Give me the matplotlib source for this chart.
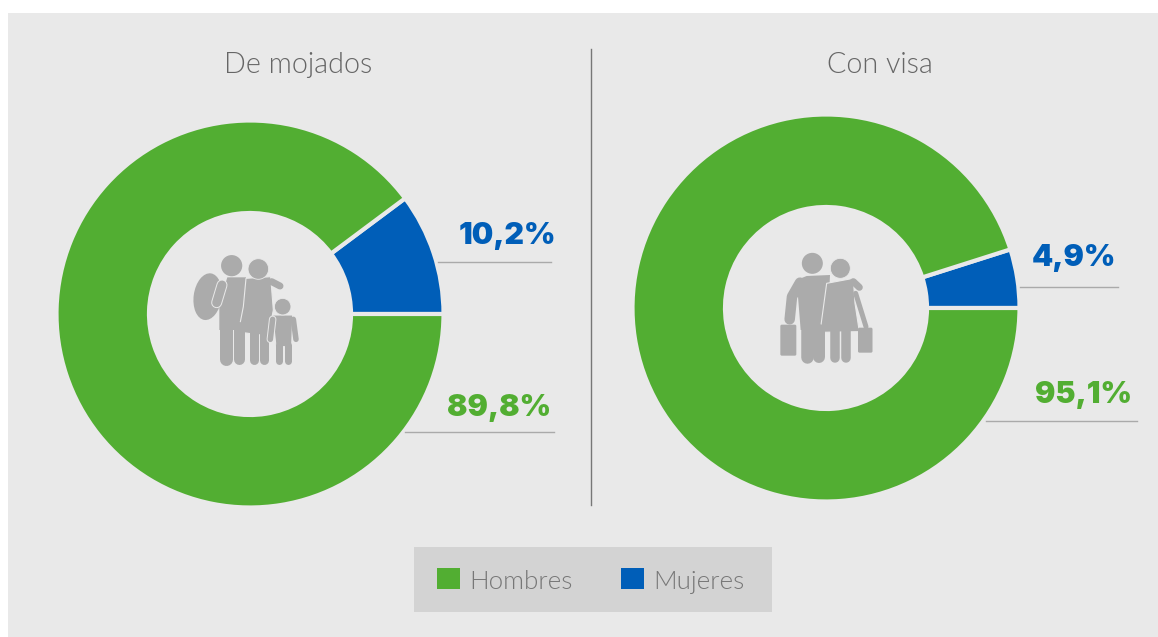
import matplotlib
matplotlib.use("Agg")
import matplotlib.pyplot as plt
from matplotlib.patches import Rectangle, Circle, Ellipse, Polygon, FancyBboxPatch

W, H = 1158, 637
BG = "#E9E9E9"
GREEN = "#52AE32"
BLUE = "#005EB8"
ICON = "#ABABAB"

categories = ["Hombres", "Mujeres"]
titles = ["De mojados", "Con visa"]
mojados = [89.8, 10.2]
visa = [95.1, 4.9]
mojados_labels = ["89,8%", "10,2%"]
visa_labels = ["95,1%", "4,9%"]

plt.rcParams['font.family'] = ['Lato', 'DejaVu Sans']

fig = plt.figure(figsize=(W / 100, H / 100), dpi=100, facecolor="white")

# pixel canvas for everything that is not a pie
ax = fig.add_axes([0, 0, 1, 1])
ax.set_xlim(0, W)
ax.set_ylim(H, 0)
ax.axis("off")
ax.add_patch(Rectangle((8, 13), W - 8, H - 13, color=BG, lw=0))
ax.add_patch(Rectangle((414, 547), 358, 65, color="#D3D3D3", lw=0))


def donut(cx, cy, r, values):
    a = fig.add_axes([(cx - r) / W, 1 - (cy + r) / H, 2 * r / W, 2 * r / H])
    # mujeres first so the small slice sits just above the 3 o'clock line
    w, _ = a.pie(values[::-1], colors=[BLUE, GREEN], startangle=0, radius=1,
                 wedgeprops=dict(width=0.478, edgecolor=BG, linewidth=3))
    a.set_xlim(-1, 1)
    a.set_ylim(-1, 1)
    return w[::-1]


wedges = donut(250, 314, 193.5, mojados)
donut(826, 308, 193.5, visa)

# overlay for labels and icons
top = fig.add_axes([0, 0, 1, 1], facecolor="none")
top.set_xlim(0, W)
top.set_ylim(H, 0)
top.axis("off")

top.text(298, 65, titles[0], ha="center", va="center", fontsize=20.7, fontweight=300, color="#666666")
top.text(880, 65, titles[1], ha="center", va="center", fontsize=20.7, fontweight=300, color="#666666")
top.plot([591, 591], [49, 505], color="#777777", lw=1)

LABEL_FONT = dict(ha="center", va="center", fontsize=21.8, fontweight=900, family="Inter")
top.text(507, 236, mojados_labels[1], color=BLUE, **LABEL_FONT)
top.text(499, 408, mojados_labels[0], color=GREEN, **LABEL_FONT)
top.text(1074, 258, visa_labels[1], color=BLUE, **LABEL_FONT)
top.text(1084, 395, visa_labels[0], color=GREEN, **LABEL_FONT)

for x0, x1, y in [(438, 551, 262), (405, 554, 432), (1020, 1118, 287), (986, 1137, 421)]:
    top.plot([x0, x1], [y, y], color="#AAAAAA", lw=1)


def limb(pts, width, edge=False):
    xs = [p[0] for p in pts]
    ys = [p[1] for p in pts]
    if edge:
        top.plot(xs, ys, color=BG, lw=(width + 2) * 0.72, solid_capstyle="round", solid_joinstyle="round")
    top.plot(xs, ys, color=ICON, lw=width * 0.72, solid_capstyle="round", solid_joinstyle="round")


def z1(x, y):
    return (140 + x / 3, 230 + y / 3)


def z2(x, y):
    return (740 + x / 3, 230 + y / 3)


def scaled(z, pts):
    return [z(*p) for p in pts]


# family with backpack
top.add_patch(Ellipse(z1(203, 200), 28, 47, angle=8, color=ICON, lw=0))
top.add_patch(Polygon(scaled(z1, [(262, 142), (318, 142), (316, 300), (238, 300), (238, 220)]), color=ICON, lw=0))
limb(scaled(z1, [(258, 290), (258, 388)]), 13)
limb(scaled(z1, [(297, 290), (297, 388)]), 11)
limb(scaled(z1, [(246, 165), (230, 218)]), 9, edge=True)
top.add_patch(Circle(z1(275, 107), 10.6, color=ICON, lw=0))
limb(scaled(z1, [(343, 300), (343, 390)]), 9)
limb(scaled(z1, [(373, 300), (373, 390)]), 9)
top.add_patch(Polygon(scaled(z1, [(318, 145), (392, 140), (400, 240), (385, 318), (295, 306), (310, 230)]),
                      facecolor=ICON, edgecolor=BG, lw=0.8))
limb(scaled(z1, [(395, 155), (420, 168)]), 7)
top.add_patch(Circle(z1(355, 117), 10.3, facecolor=ICON, edgecolor=BG, lw=0.6))
top.add_patch(Polygon(scaled(z1, [(398, 255), (458, 255), (455, 350), (408, 350)]), facecolor=ICON, edgecolor=BG, lw=0.8))
limb(scaled(z1, [(398, 268), (391, 328)]), 5.5, edge=True)
limb(scaled(z1, [(460, 268), (468, 328)]), 5.5)
limb(scaled(z1, [(416, 345), (416, 394)]), 7)
limb(scaled(z1, [(443, 345), (443, 394)]), 7)
top.add_patch(Circle(z1(428, 230), 8.3, facecolor=ICON, edgecolor=BG, lw=0.6))

# couple with suitcases
top.add_patch(Circle(z2(217, 100), 10.5, color=ICON, lw=0))
top.add_patch(Polygon(scaled(z2, [(170, 150), (200, 138), (270, 135), (262, 300), (182, 300)]), color=ICON, lw=0))
limb(scaled(z2, [(180, 158), (156, 200), (149, 268)]), 10.5)
limb(scaled(z2, [(200, 300), (200, 380)]), 12.5)
limb(scaled(z2, [(238, 300), (238, 380)]), 12)
top.add_patch(FancyBboxPatch(z2(121, 284), 16, 31, boxstyle="round,pad=0,rounding_size=1.5", color=ICON, lw=0))
limb(scaled(z2, [(285, 300), (285, 385)]), 9.5)
limb(scaled(z2, [(318, 300), (318, 385)]), 9.5)
top.add_patch(Polygon(scaled(z2, [(260, 160), (340, 145), (345, 220), (358, 305), (240, 307)]),
                      facecolor=ICON, edgecolor=BG, lw=0.8))
limb(scaled(z2, [(340, 155), (358, 172)]), 7)
limb(scaled(z2, [(347, 190), (378, 290)]), 5)
top.add_patch(FancyBboxPatch(z2(354, 293), 14.5, 25, boxstyle="round,pad=0,rounding_size=1.5", color=ICON, lw=0))
top.add_patch(Circle(z2(301, 115), 10, facecolor=ICON, edgecolor=BG, lw=0.6))

leg = top.legend(wedges, categories, loc="center left", bbox_to_anchor=(437 / W, 1 - 580 / H), ncol=2,
                 frameon=False, prop=dict(family="Lato", weight=300, size=18.7), labelcolor="#777777",
                 handlelength=0.89, handleheight=0.89, handletextpad=0.35, columnspacing=1.85,
                 borderpad=0, borderaxespad=0)
for h in leg.get_patches():
    h.set_edgecolor("none")
for t in leg.get_texts():
    t.set_position((0, -2))

fig.savefig("out.png", dpi=100)
